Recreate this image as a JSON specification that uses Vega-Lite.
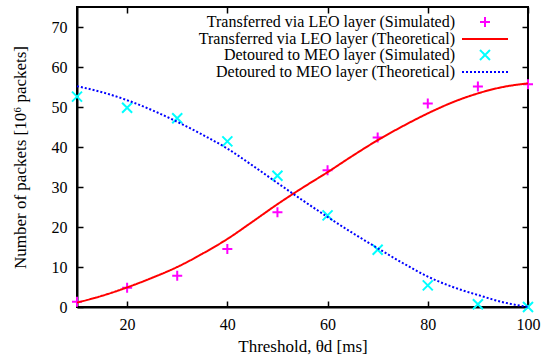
{
  "$schema": "https://vega.github.io/schema/vega-lite/v6.json",
  "width": 451,
  "height": 300,
  "autosize": {"type": "none"},
  "padding": {"left": 77, "top": 7, "right": 15, "bottom": 57},
  "background": "white",
  "config": {
    "font": "Liberation Serif",
    "view": {"stroke": "black", "strokeWidth": 2},
    "axis": {
      "grid": false,
      "domainColor": "black",
      "domainWidth": 2,
      "tickColor": "black",
      "tickWidth": 1.5,
      "tickSize": -6,
      "labelFlush": false,
      "labelFont": "Liberation Serif",
      "labelFontSize": 16,
      "labelColor": "black",
      "titleFont": "Liberation Serif",
      "titleFontSize": 17,
      "titleFontWeight": "normal",
      "titleColor": "black"
    }
  },
  "datasets": {
    "sim": [
      {"x": 10, "y": 1.3, "series": "Transferred via LEO layer (Simulated)"},
      {"x": 20, "y": 4.8, "series": "Transferred via LEO layer (Simulated)"},
      {"x": 30, "y": 7.8, "series": "Transferred via LEO layer (Simulated)"},
      {"x": 40, "y": 14.5, "series": "Transferred via LEO layer (Simulated)"},
      {"x": 50, "y": 23.7, "series": "Transferred via LEO layer (Simulated)"},
      {"x": 60, "y": 34.2, "series": "Transferred via LEO layer (Simulated)"},
      {"x": 70, "y": 42.4, "series": "Transferred via LEO layer (Simulated)"},
      {"x": 80, "y": 50.9, "series": "Transferred via LEO layer (Simulated)"},
      {"x": 90, "y": 55.1, "series": "Transferred via LEO layer (Simulated)"},
      {"x": 100, "y": 55.7, "series": "Transferred via LEO layer (Simulated)"},
      {"x": 10, "y": 52.6, "series": "Detoured to MEO layer (Simulated)"},
      {"x": 20, "y": 49.8, "series": "Detoured to MEO layer (Simulated)"},
      {"x": 30, "y": 47.2, "series": "Detoured to MEO layer (Simulated)"},
      {"x": 40, "y": 41.4, "series": "Detoured to MEO layer (Simulated)"},
      {"x": 50, "y": 32.8, "series": "Detoured to MEO layer (Simulated)"},
      {"x": 60, "y": 22.9, "series": "Detoured to MEO layer (Simulated)"},
      {"x": 70, "y": 14.3, "series": "Detoured to MEO layer (Simulated)"},
      {"x": 80, "y": 5.4, "series": "Detoured to MEO layer (Simulated)"},
      {"x": 90, "y": 0.7, "series": "Detoured to MEO layer (Simulated)"},
      {"x": 100, "y": 0.0, "series": "Detoured to MEO layer (Simulated)"}
    ],
    "theory": [
      {"x": 10, "y": 1.1, "series": "Transferred via LEO layer (Theoretical)"},
      {"x": 15, "y": 2.8, "series": "Transferred via LEO layer (Theoretical)"},
      {"x": 20, "y": 4.9, "series": "Transferred via LEO layer (Theoretical)"},
      {"x": 25, "y": 7.3, "series": "Transferred via LEO layer (Theoretical)"},
      {"x": 30, "y": 10.0, "series": "Transferred via LEO layer (Theoretical)"},
      {"x": 35, "y": 13.3, "series": "Transferred via LEO layer (Theoretical)"},
      {"x": 40, "y": 17.0, "series": "Transferred via LEO layer (Theoretical)"},
      {"x": 45, "y": 21.3, "series": "Transferred via LEO layer (Theoretical)"},
      {"x": 50, "y": 25.7, "series": "Transferred via LEO layer (Theoretical)"},
      {"x": 55, "y": 29.8, "series": "Transferred via LEO layer (Theoretical)"},
      {"x": 60, "y": 33.7, "series": "Transferred via LEO layer (Theoretical)"},
      {"x": 65, "y": 37.8, "series": "Transferred via LEO layer (Theoretical)"},
      {"x": 70, "y": 41.7, "series": "Transferred via LEO layer (Theoretical)"},
      {"x": 75, "y": 45.2, "series": "Transferred via LEO layer (Theoretical)"},
      {"x": 80, "y": 48.4, "series": "Transferred via LEO layer (Theoretical)"},
      {"x": 85, "y": 51.2, "series": "Transferred via LEO layer (Theoretical)"},
      {"x": 90, "y": 53.4, "series": "Transferred via LEO layer (Theoretical)"},
      {"x": 95, "y": 55.0, "series": "Transferred via LEO layer (Theoretical)"},
      {"x": 100, "y": 55.9, "series": "Transferred via LEO layer (Theoretical)"},
      {"x": 10, "y": 55.2, "series": "Detoured to MEO layer (Theoretical)"},
      {"x": 15, "y": 53.7, "series": "Detoured to MEO layer (Theoretical)"},
      {"x": 20, "y": 51.7, "series": "Detoured to MEO layer (Theoretical)"},
      {"x": 25, "y": 49.2, "series": "Detoured to MEO layer (Theoretical)"},
      {"x": 30, "y": 46.3, "series": "Detoured to MEO layer (Theoretical)"},
      {"x": 35, "y": 43.1, "series": "Detoured to MEO layer (Theoretical)"},
      {"x": 40, "y": 39.6, "series": "Detoured to MEO layer (Theoretical)"},
      {"x": 45, "y": 35.4, "series": "Detoured to MEO layer (Theoretical)"},
      {"x": 50, "y": 31.0, "series": "Detoured to MEO layer (Theoretical)"},
      {"x": 55, "y": 26.7, "series": "Detoured to MEO layer (Theoretical)"},
      {"x": 60, "y": 22.5, "series": "Detoured to MEO layer (Theoretical)"},
      {"x": 65, "y": 18.5, "series": "Detoured to MEO layer (Theoretical)"},
      {"x": 70, "y": 14.7, "series": "Detoured to MEO layer (Theoretical)"},
      {"x": 75, "y": 11.0, "series": "Detoured to MEO layer (Theoretical)"},
      {"x": 80, "y": 7.6, "series": "Detoured to MEO layer (Theoretical)"},
      {"x": 85, "y": 5.0, "series": "Detoured to MEO layer (Theoretical)"},
      {"x": 90, "y": 3.0, "series": "Detoured to MEO layer (Theoretical)"},
      {"x": 95, "y": 1.2, "series": "Detoured to MEO layer (Theoretical)"},
      {"x": 100, "y": 0.0, "series": "Detoured to MEO layer (Theoretical)"}
    ]
  },
  "layer": [
    {
      "data": {"name": "sim"},
      "mark": {"type": "point", "filled": false, "strokeWidth": 2, "size": 100, "opacity": 1},
      "encoding": {
        "x": {
          "field": "x", "type": "quantitative",
          "scale": {"domain": [10, 100], "nice": false, "zero": false},
          "axis": {"orient": "bottom", "values": [20, 40, 60, 80, 100], "title": "Threshold, θd [ms]", "titlePadding": 6, "labelPadding": 15}
        },
        "y": {
          "field": "y", "type": "quantitative",
          "scale": {"domain": [0, 75], "nice": false},
          "axis": {"orient": "left", "values": [0, 10, 20, 30, 40, 50, 60, 70], "title": "Number of packets [10⁶ packets]", "titlePadding": 22, "labelPadding": 16}
        },
        "shape": {
          "field": "series", "type": "nominal",
          "scale": {
            "domain": ["Transferred via LEO layer (Simulated)", "Transferred via LEO layer (Theoretical)", "Detoured to MEO layer (Simulated)", "Detoured to MEO layer (Theoretical)"],
            "range": ["M-1,0L1,0M0,-1L0,1", "M-4.6,0L4.6,0", "M-1,-1L1,1M-1,1L1,-1", "M-4.6,0L4.6,0"]
          },
          "legend": {"title": null}
        },
        "color": {
          "field": "series", "type": "nominal",
          "scale": {
            "domain": ["Transferred via LEO layer (Simulated)", "Transferred via LEO layer (Theoretical)", "Detoured to MEO layer (Simulated)", "Detoured to MEO layer (Theoretical)"],
            "range": ["#ff00ff", "#ff0000", "#00ffff", "#0000ff"]
          },
          "legend": {
            "title": null,
            "orient": "none",
            "legendX": 400,
            "legendY": 7,
            "padding": 0,
            "labelFont": "Liberation Serif",
            "labelFontSize": 16,
            "labelColor": "black",
            "labelAlign": "right",
            "labelOffset": -38,
            "labelLimit": 400,
            "symbolSize": 100,
            "symbolStrokeWidth": 2,
            "symbolOpacity": 1,
            "symbolFillColor": "transparent",
            "rowPadding": -1
          }
        }
      }
    },
    {
      "data": {"name": "theory"},
      "mark": {"type": "line", "strokeWidth": 2, "interpolate": "monotone"},
      "encoding": {
        "x": {
          "field": "x", "type": "quantitative",
          "axis": {"orient": "top", "values": [20, 40, 60, 80, 100], "labels": false, "title": null, "domain": false}
        },
        "y": {
          "field": "y", "type": "quantitative",
          "axis": {"orient": "right", "values": [10, 20, 30, 40, 50, 60, 70], "labels": false, "title": null, "domain": false}
        },
        "color": {"field": "series", "type": "nominal"},
        "strokeDash": {
          "field": "series", "type": "nominal",
          "scale": {
            "domain": ["Transferred via LEO layer (Simulated)", "Transferred via LEO layer (Theoretical)", "Detoured to MEO layer (Simulated)", "Detoured to MEO layer (Theoretical)"],
            "range": [[1, 0], [1, 0], [1, 0], [2, 2]]
          },
          "legend": {"title": null}
        }
      }
    }
  ],
  "resolve": {"axis": {"x": "independent", "y": "independent"}}
}
